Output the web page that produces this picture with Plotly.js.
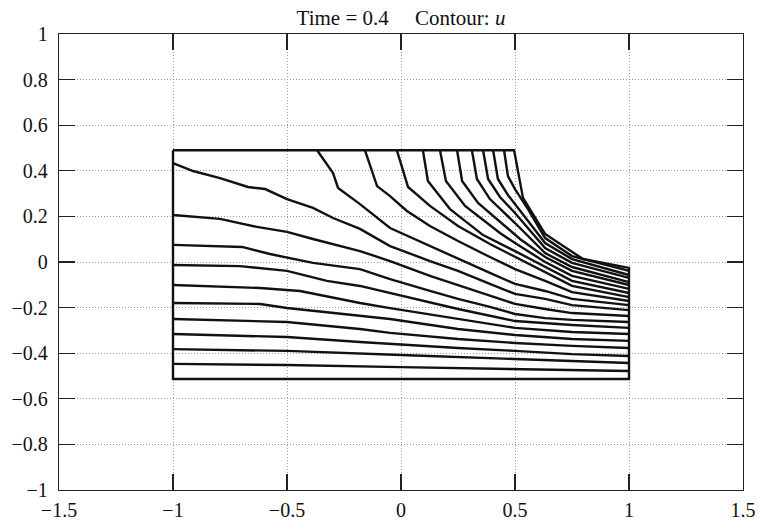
<!DOCTYPE html>
<html>
<head>
<meta charset="utf-8">
<script src="https://cdn.plot.ly/plotly-3.0.1.min.js"></script>
<style>html,body{margin:0;padding:0;background:#fff;}#chart{width:759px;height:525px;}</style>
</head>
<body>
<div id="chart"></div>
<script>
// Domain outline (deformed region)
const boundaryX = [-1, 0.496, 0.535, 0.632, 0.798, 1, 1, -1, -1];
const boundaryY = [0.49, 0.49, 0.281, 0.123, 0.013, -0.026, -0.513, -0.513, 0.49];

// Contour lines of u, ordered from the outline inwards
const contourX = [
  [0.452, 0.469, 0.5, 0.557, 0.632, 0.75, 1],
  [0.404, 0.425, 0.469, 0.522, 0.632, 0.75, 1],
  [0.360, 0.382, 0.434, 0.5, 0.632, 0.75, 1],
  [0.311, 0.333, 0.390, 0.5, 0.632, 0.75, 1],
  [0.246, 0.268, 0.338, 0.456, 0.522, 0.632, 0.75, 1],
  [0.171, 0.197, 0.281, 0.434, 0.5, 0.632, 0.75, 1],
  [0.096, 0.118, 0.215, 0.360, 0.5, 0.632, 0.75, 1],
  [-0.018, 0.031, 0.127, 0.25, 0.390, 0.5, 0.632, 0.75, 1],
  [-0.158, -0.105, -0.048, 0.026, 0.127, 0.25, 0.390, 0.5, 0.632, 0.75, 1],
  [-0.368, -0.298, -0.276, -0.180, -0.048, 0.127, 0.25, 0.390, 0.5, 0.632, 0.75, 1],
  [-1, -0.912, -0.794, -0.671, -0.596, -0.5, -0.386, -0.298, -0.180, -0.048, 0.127, 0.25, 0.390, 0.5, 0.632, 0.75, 1],
  [-1, -0.794, -0.632, -0.5, -0.386, -0.180, -0.048, 0.127, 0.25, 0.390, 0.5, 0.632, 0.75, 1],
  [-1, -0.697, -0.575, -0.386, -0.180, -0.048, 0.127, 0.25, 0.390, 0.5, 0.632, 0.75, 1],
  [-1, -0.706, -0.5, -0.325, -0.180, -0.048, 0.25, 0.5, 0.75, 1],
  [-1, -0.618, -0.443, -0.180, -0.048, 0.25, 0.5, 0.75, 1],
  [-1, -0.618, -0.5, -0.180, -0.048, 0.25, 0.5, 0.75, 1],
  [-1, -0.5, -0.180, -0.048, 0.25, 0.5, 0.75, 1],
  [-1, -0.5, -0.180, -0.048, 0.25, 0.5, 0.75, 1],
  [-1, -0.5, 0, 0.5, 0.75, 1],
  [-1, -0.5, 0, 0.5, 1]
];
const contourY = [
  [0.49, 0.377, 0.320, 0.232, 0.105, 0.026, -0.039],
  [0.49, 0.364, 0.294, 0.224, 0.083, 0.013, -0.057],
  [0.49, 0.364, 0.285, 0.215, 0.061, -0.004, -0.070],
  [0.49, 0.364, 0.276, 0.171, 0.039, -0.022, -0.088],
  [0.49, 0.355, 0.259, 0.158, 0.101, 0.022, -0.039, -0.101],
  [0.49, 0.355, 0.246, 0.127, 0.083, 0, -0.061, -0.118],
  [0.49, 0.355, 0.232, 0.118, 0.048, -0.022, -0.083, -0.136],
  [0.49, 0.329, 0.246, 0.158, 0.079, 0.022, -0.044, -0.105, -0.154],
  [0.49, 0.333, 0.289, 0.224, 0.158, 0.092, 0.022, -0.031, -0.083, -0.132, -0.171],
  [0.49, 0.390, 0.325, 0.254, 0.149, 0.070, 0.013, -0.048, -0.096, -0.127, -0.162, -0.189],
  [0.434, 0.399, 0.368, 0.329, 0.320, 0.276, 0.237, 0.193, 0.145, 0.070, 0.004, -0.039, -0.096, -0.140, -0.162, -0.189, -0.211],
  [0.206, 0.189, 0.154, 0.132, 0.101, 0.048, 0.004, -0.061, -0.101, -0.149, -0.184, -0.206, -0.224, -0.237],
  [0.075, 0.066, 0.035, -0.004, -0.031, -0.075, -0.127, -0.162, -0.197, -0.228, -0.246, -0.254, -0.263],
  [-0.013, -0.018, -0.039, -0.083, -0.105, -0.136, -0.206, -0.259, -0.276, -0.289],
  [-0.101, -0.114, -0.127, -0.180, -0.202, -0.250, -0.289, -0.307, -0.316],
  [-0.180, -0.184, -0.202, -0.237, -0.250, -0.294, -0.320, -0.338, -0.346],
  [-0.250, -0.263, -0.294, -0.311, -0.338, -0.355, -0.368, -0.377],
  [-0.316, -0.329, -0.351, -0.360, -0.377, -0.390, -0.404, -0.412],
  [-0.382, -0.390, -0.408, -0.425, -0.434, -0.443],
  [-0.447, -0.452, -0.461, -0.469, -0.478]
];

const xTicks = [-1.5, -1, -0.5, 0, 0.5, 1, 1.5];
const yTicks = [-1, -0.8, -0.6, -0.4, -0.2, 0, 0.2, 0.4, 0.6, 0.8, 1];
const titleText = 'Time = 0.4&nbsp;&nbsp;&nbsp;&nbsp;&nbsp;Contour: <i>u</i>';

const traces = [];
for (let i = 0; i < contourX.length; i++) {
  traces.push({
    x: contourX[i], y: contourY[i], type: 'scatter', mode: 'lines',
    line: {color: '#111', width: 2.4}, hoverinfo: 'skip', showlegend: false
  });
}
traces.push({
  x: boundaryX, y: boundaryY, type: 'scatter', mode: 'lines',
  line: {color: '#111', width: 2.4}, hoverinfo: 'skip', showlegend: false
});

const font = {family: '"Liberation Serif", "Times New Roman", serif', size: 20, color: '#111'};
const titleFont = {family: '"Liberation Serif", "Times New Roman", serif', size: 21, color: '#111'};
const axisCommon = {
  showline: true, linecolor: '#222', linewidth: 1.3, mirror: 'ticks',
  ticks: 'inside', ticklen: 16, tickwidth: 1.3, tickcolor: '#222',
  showgrid: true, gridcolor: '#9a9a9a', gridwidth: 1, griddash: '1px,2px',
  zeroline: false, tickfont: font, fixedrange: true
};
const fmt = v => (v < 0 ? '\u2212' : '') + Math.abs(v);

const layout = {
  width: 759, height: 525,
  margin: {l: 59, r: 16, t: 34, b: 35},
  paper_bgcolor: '#fff', plot_bgcolor: '#fff',
  font: font,
  title: {text: titleText, font: titleFont, x: 0.5, xref: 'paper', xanchor: 'center',
          y: 0.967, yref: 'container', yanchor: 'middle'},
  xaxis: Object.assign({}, axisCommon, {range: [-1.5, 1.5], tickvals: xTicks, ticktext: xTicks.map(fmt), ticklabelstandoff: 2}),
  yaxis: Object.assign({}, axisCommon, {range: [-1, 1], tickvals: yTicks, ticktext: yTicks.map(fmt), ticklabelstandoff: 6}),
  showlegend: false
};

Plotly.newPlot('chart', traces, layout, {displayModeBar: false, staticPlot: true});
</script>
</body>
</html>
